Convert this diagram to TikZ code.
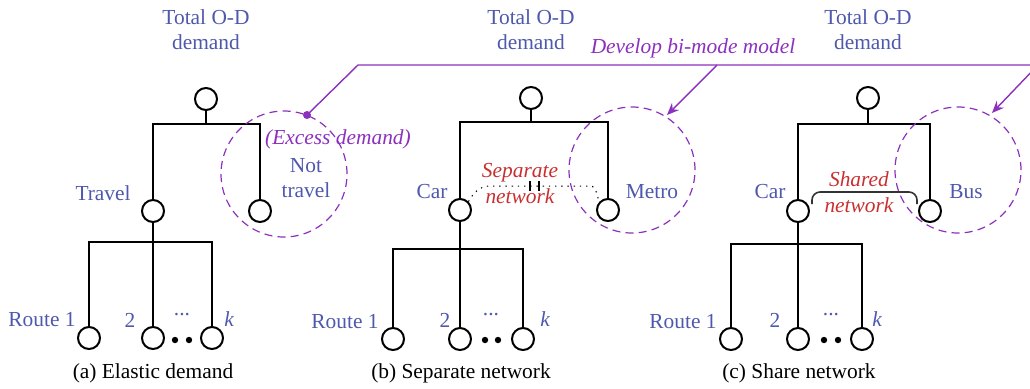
\documentclass[tikz,border=0pt]{standalone}
\usepackage{fontspec}
\setmainfont{Liberation Serif}
\usetikzlibrary{arrows.meta, positioning}
\definecolor{odblue}{RGB}{78,88,172}
\definecolor{modepurple}{RGB}{140,48,190}
\definecolor{netred}{RGB}{200,48,48}
\tikzset{%
>={Stealth[length=6pt,width=5pt]},
  % Specifications for style of nodes:
            base/.style = {circle, draw=black, line width=1pt,
                            minimum size=11pt, inner sep=0pt},
            tag/.style = {text=odblue, font=\fontsize{10.7}{12.5}\selectfont,
                            align=center, inner sep=0pt},
            note/.style = {text=modepurple, font=\fontsize{10.7}{12.5}\selectfont\itshape,
                            inner sep=0pt},
            netnote/.style = {text=netred, font=\fontsize{10.7}{13}\selectfont\itshape,
                            align=center, inner sep=0pt},
            subcap/.style = {font=\fontsize{10.7}{12.5}\selectfont, inner sep=0pt},
            ring/.style = {draw=modepurple, line width=0.6pt, dash pattern=on 4pt off 2.6pt},
            tree/.style = {line width=0.6pt}
}
\begin{document}
\begin{tikzpicture}[x=0.5pt, y=-0.5pt]
                        \clip (0,0) rectangle (1030,388);
                        % (a) elastic demand
                        \node[base] (a0) at (206,99) {};
                        \node[base] (a1) at (153,211) {};
                        \node[base] (a2) at (260,211) {};
                        \node[base] (a11) at (89,338) {};
                        \node[base] (a12) at (153,338) {};
                        \node[base] (a13) at (212,338) {};
                        \coordinate (a0b) at (206,124);
                        \coordinate (a1b) at (153,242);
                        \draw[tree] (a0) -- (a0b);
                        \draw[tree] (a1) |- (a0b) -| (a2);
                        \draw[tree] (a1) -- (a12);
                        \draw[tree] (a11) |- (a1b) -| (a13);
                        \fill (175,340) circle (1.6pt) (189,340) circle (1.6pt);
                        \node[tag] (ta) at (206,30) {Total O-D\\demand};
                        \node[tag, anchor=east] (travel) at (131,193) {Travel};
                        \node[tag] (notravel) at (306,178) {Not\\travel};
                        \node[note] (excess) at (338,139) {(Excess demand)};
                        \node[tag] (ra1) at (42,320) {Route 1};
                        \node[tag] (ra2) at (130,320) {2};
                        \node[tag] (ra3) at (182,315) {...};
                        \node[tag] (ra4) at (229,319) {\itshape k};
                        \node[subcap] (capa) at (153,373) {(a) Elastic demand};
                        \draw[ring] (284,174) circle (31.5pt);
                        % (b) separate network
                        \node[base] (b0) at (531,98) {};
                        \node[base] (b1) at (460,210) {};
                        \node[base] (b2) at (608,210) {};
                        \node[base] (b11) at (393,339) {};
                        \node[base] (b12) at (460,339) {};
                        \node[base] (b13) at (523,339) {};
                        \coordinate (b0b) at (531,122);
                        \coordinate (b1b) at (460,249);
                        \draw[tree] (b0) -- (b0b);
                        \draw[tree] (b1) |- (b0b) -| (b2);
                        \draw[tree] (b1) -- (b12);
                        \draw[tree] (b11) |- (b1b) -| (b13);
                        \fill (485,340) circle (1.6pt) (498,340) circle (1.6pt);
                        \node[tag] (tb) at (531,30) {Total O-D\\demand};
                        \node[tag] (carb) at (432,192) {Car};
                        \node[tag] (metro) at (652,192) {Metro};
                        \node[netnote] (sepnet) at (520,184) {Separate\\network};
                        \draw[line width=0.5pt, dash pattern=on 0.7pt off 2.4pt]
                            (b1.north east) to[out=60, in=180] (490,186) -- (590,186)
                            to[out=0, in=120] (b2.north west);
                        \draw[line width=0.6pt] (530,181) -- (530,191) (539,181) -- (539,191);
                        \node[tag] (rb1) at (345,322) {Route 1};
                        \node[tag] (rb2) at (445,320) {2};
                        \node[tag] (rb3) at (491,315) {...};
                        \node[tag] (rb4) at (545,319) {\itshape k};
                        \node[subcap] (capb) at (461,373) {(b) Separate network};
                        \draw[ring] (632,170) circle (31.5pt);
                        % (c) share network
                        \node[base] (c0) at (868,98) {};
                        \node[base] (c1) at (798,211) {};
                        \node[base] (c2) at (930,211) {};
                        \node[base] (c11) at (731,339) {};
                        \node[base] (c12) at (798,339) {};
                        \node[base] (c13) at (862,339) {};
                        \coordinate (c0b) at (868,124);
                        \coordinate (c1b) at (798,244);
                        \draw[tree] (c0) -- (c0b);
                        \draw[tree] (c1) |- (c0b) -| (c2);
                        \draw[tree] (c1) -- (c12);
                        \draw[tree] (c11) |- (c1b) -| (c13);
                        \fill (824,340) circle (1.6pt) (838,340) circle (1.6pt);
                        \node[tag] (tc) at (868,30) {Total O-D\\demand};
                        \node[tag] (carc) at (770,192) {Car};
                        \node[tag] (bus) at (966,192) {Bus};
                        \node[netnote] (shnet) at (859,192) {Shared\\network};
                        \coordinate (brl) at (812,204);
                        \coordinate (brr) at (917,204);
                        \draw[line width=0.8pt, black!80, rounded corners=4pt]
                            (brl) |- (864,192) -| (brr);
                        \node[tag] (rc1) at (683,322) {Route 1};
                        \node[tag] (rc2) at (775,320) {2};
                        \node[tag] (rc3) at (831,315) {...};
                        \node[tag] (rc4) at (877,319) {\itshape k};
                        \node[subcap] (capc) at (799,373) {(c) Share network};
                        \draw[ring] (958,170) circle (31.5pt);
                        % bi-mode model pointer
                        \coordinate (exc) at (307,115);
                        \coordinate (knee) at (358,65);
                        \coordinate (far) at (1040,65);
                        \coordinate (fromb) at (717,65);
                        \coordinate (tob) at (667,115);
                        \coordinate (toc) at (992,113);
                        \draw[modepurple, line width=0.7pt] (exc) -- (knee) -- (far);
                        \fill[modepurple] (exc) circle (2pt);
                        \draw[->, modepurple, line width=0.7pt] (fromb) -- (tob);
                        \draw[->, modepurple, line width=0.7pt] (1038,65) -- (toc);
                        \node[note] (bimode) at (693,48) {Develop bi-mode model};
                    \end{tikzpicture}
\end{document}
